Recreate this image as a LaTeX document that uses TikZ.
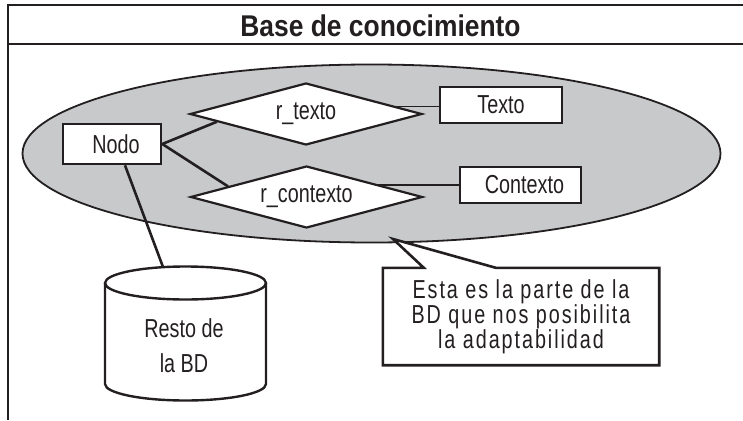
\documentclass[tikz,border=0pt]{standalone}
\usepackage{fontspec}
\setmainfont{Liberation Sans}[FakeStretch=0.76]
\newfontfamily\titlefont{Liberation Sans}[FakeStretch=0.88]
\usetikzlibrary{shapes.geometric,calc}
\pgfdeclarelayer{background}
\pgfdeclarelayer{conn}
\pgfsetlayers{background,conn,main}
\definecolor{ink}{RGB}{35,31,32}
\definecolor{kbgray}{RGB}{200,201,203}
\begin{document}
\begin{tikzpicture}[x=1pt,y=-1pt,
  every node/.style={font=\fontsize{26}{28}\selectfont, text=ink},
  box/.style={draw=ink, line width=2.6pt, fill=white, rectangle, inner sep=0pt},
  rel/.style={diamond, draw=ink, line width=2.2pt, fill=white, inner sep=0pt, aspect=3.7, minimum width=232pt, minimum height=62pt},
  link/.style={draw=ink, line width=2.6pt},
  thinlink/.style={draw=ink, line width=1.6pt},
  frame/.style={draw=ink, line width=2.4pt}]
\useasboundingbox (0,0) rectangle (743,420);
% frame
\draw[frame] (8,420) -- (8,5) -- (743,5);
\draw[frame] (8,44) -- (743,44);
\node[anchor=base, font=\titlefont\bfseries\fontsize{30}{32}\selectfont] (title) at (380.5,36.5) {Base de conocimiento};
% knowledge base ellipse
\begin{pgfonlayer}{background}
\node[ellipse, draw=ink, line width=1.8pt, fill=kbgray, minimum width=698pt, minimum height=178pt, inner sep=0pt] (kb) at (371.5,153.5) {};
\end{pgfonlayer}
% nodes
\node[box, minimum width=98pt, minimum height=40pt] (nodo) at (112,144) {\hspace{8pt}Nodo};
\node[rel] (rtexto) at (306,114) {r\_texto};
\node[rel] (rcontexto) at (306.5,197) {r\_contexto};
\node[box, line width=2.4pt, minimum width=122pt, minimum height=36pt] (texto) at (501,105) {Texto};
\node[box, line width=2.4pt, minimum width=121pt, minimum height=36pt] (contexto) at (520.5,185) {\hspace{8pt}Contexto};
% cylinder
\coordinate (cyltop) at (185.5,283);
\coordinate (cylbot) at (185.5,384);
\draw[draw=ink, line width=2.4pt] ($(cyltop)+(-80.5,0)$) -- ($(cylbot)+(-80.5,0)$) arc[start angle=180,end angle=0,x radius=80.5,y radius=16.5] -- ($(cyltop)+(80.5,0)$);
\draw[draw=ink, line width=2.4pt] (cyltop) ellipse[x radius=80.5,y radius=16.5];
\node[align=center, font=\fontsize{26}{35}\selectfont] (cyl) at (184,346) {Resto de\\la BD};
\coordinate (cylin) at (163,267);
% callout
\coordinate (tip) at (393,239);
\node[align=center, minimum width=276pt, minimum height=97pt, inner sep=0pt, font=\fontsize{26}{25}\selectfont\addfontfeature{LetterSpace=7.5}] (callout) at (521,316.5) {Esta es la parte de la\\BD que nos posibilita\\la adaptabilidad};
% connectors
\begin{pgfonlayer}{conn}
\draw[link] (nodo.east) -- ($(rtexto.west)!0.24!(rtexto.south)$);
\draw[link] (nodo.east) -- ($(rcontexto.west)!0.33!(rcontexto.north)$);
\draw[thinlink] ([yshift=-1.5pt]texto.west) -- ([yshift=-1.5pt]texto.west -| rtexto.center);
\draw[thinlink] (contexto.west) -- (contexto.west -| rcontexto.center);
\draw[link] ($(nodo.south)+(13,0)$) -- (cylin);
\draw[draw=ink, line width=2.6pt, fill=white, line join=miter]
  (callout.north west) -- ($(callout.north west)+(41,0)$) -- (tip)
  -- ($(callout.north west)+(113,0)$) -- (callout.north east)
  -- (callout.south east) -- (callout.south west) -- cycle;
\end{pgfonlayer}
\end{tikzpicture}
\end{document}
